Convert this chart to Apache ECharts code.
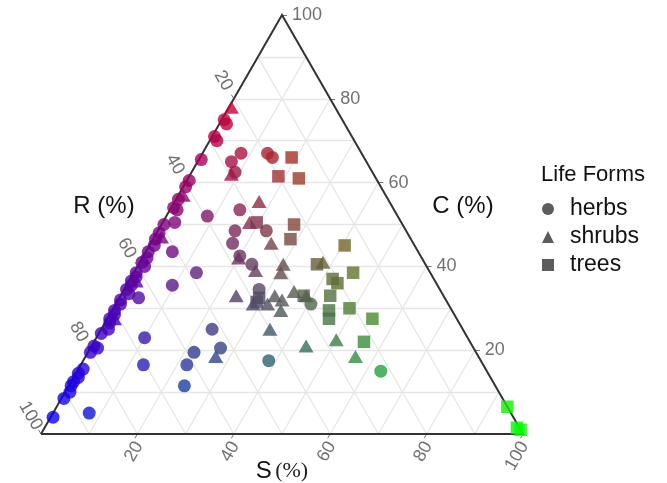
<!DOCTYPE html>
<html>
<head>
<meta charset="utf-8">
<script src="https://cdn.jsdelivr.net/npm/echarts@6/dist/echarts.min.js"></script>
<style>
  html, body { margin: 0; padding: 0; background: #fff; }
  #main { width: 667px; height: 483px; }
</style>
</head>
<body>
<div id="main"></div>
<script>
// each row: [C, S, R] in %
var herbs = [
  [75, 0.5, 24.5], [74, 1.5, 24.5], [71, 0.5, 28.5], [70, 1.5, 28.5], [65.5, 0.5, 34],
  [60.5, 0.5, 39], [59, 0.5, 40.5], [56, 0.5, 43.5], [54, 0.5, 45.5], [53.5, 1.5, 45],
  [50.5, 2.5, 47], [50, 0.5, 49.5], [48, 0.5, 51.5], [46.5, 0.5, 53], [45, 1, 54],
  [43.5, 0.5, 56], [42, 1, 57], [41, 0.5, 58.5], [40, 1.5, 58.5], [38.5, 0.5, 61],
  [37.5, 1, 61.5], [36.5, 0.5, 63], [35.5, 1, 63.5], [34.5, 0.5, 65], [33.5, 1.5, 65],
  [32, 0.5, 67.5], [31, 1, 68], [29.5, 0.5, 70], [28.5, 1, 70.5], [27.5, 0.5, 72],
  [26.5, 1, 72.5], [25, 1.5, 73.5], [24, 0.5, 75.5], [21, 0.5, 78.5], [20.5, 1.5, 78],
  [19.5, 0.5, 80], [15.5, 1, 83.5], [14.5, 0.5, 85], [13.5, 1, 85.5], [12.5, 0.5, 87],
  [11.5, 0.5, 88], [10, 1, 89], [8.5, 0.5, 91], [4, 0.5, 95.5],
  [67, 8, 25], [67, 13.5, 19.5], [66, 15, 19], [65, 7, 28], [62.5, 9, 28.5],
  [52, 8.5, 39.5], [53.5, 14.5, 32], [48.5, 16, 35.5], [48.5, 22.5, 29], [45.5, 17, 37.5],
  [42.5, 20, 37.5], [40.5, 23.5, 36], [34.5, 28, 37.5], [31, 40.5, 28.5], [43.5, 5.5, 51],
  [38.5, 13, 48.5], [35.5, 9.5, 55], [32.5, 4, 63.5], [25, 23, 52], [23, 10, 67],
  [20.5, 27, 52.5], [19.5, 22, 58.5], [16.5, 22, 61.5], [16.5, 13, 70.5], [11.5, 24, 64.5],
  [5, 7.5, 87.5], [17.5, 38.5, 44], [15, 63, 22]
];
var shrubs = [
  [78, 0.5, 21.5], [57, 1, 42], [47, 1.5, 51.5], [36.5, 1.5, 62], [27.5, 1.5, 71],
  [62, 8.5, 29.5], [55.5, 17.5, 27], [50.5, 18, 31.5], [45.5, 25, 29.5], [42, 20, 38],
  [39, 25, 36], [40.5, 30, 29.5], [38.5, 30.5, 31], [41, 38, 21], [33, 24, 43],
  [31, 31.5, 37.5], [33, 32, 35], [32, 34, 34], [34, 35.5, 30.5], [33, 38.5, 28.5],
  [29.5, 35, 35.5], [25, 35, 40], [21, 44.5, 34.5], [22.5, 50, 27.5], [18.5, 56, 25.5],
  [18.5, 27, 54.5], [31, 28.5, 40.5]
];
var trees = [
  [66, 19, 15], [61.5, 18.5, 20], [61, 23, 16], [50.5, 19.5, 30], [50, 27.5, 22.5],
  [46.5, 28.5, 25], [45, 40.5, 14.5], [40.5, 37, 22.5], [38.5, 45.5, 16], [37, 42, 21],
  [36, 43.5, 20.5], [33, 43.5, 23.5], [30, 49, 21], [27.5, 55, 17.5], [29.5, 45, 25.5],
  [27.5, 46, 26.5], [22, 56, 22], [32.5, 29, 38.5], [31.5, 29, 39.5], [33, 38, 29],
  [6.5, 93.5, 0], [1.5, 98, 0.5], [1, 99, 0]
];
var ticks = [20, 40, 60, 80, 100];
var gridSteps = [10, 20, 30, 40, 50, 60, 70, 80, 90];

var H = Math.sqrt(3) / 2;
var PX = 482 / 100, PY = 419 / (100 * H);

// ternary (C, S) -> plane
function toXY(c, s) {
  return [s + c / 2, c * H];
}
// move a plane point by some pixels
function shift(p, dx, dy) {
  return [p[0] + dx / PX, p[1] - dy / PY];
}
function pointColor(d) {
  return 'rgb(' + Math.round(d[0] * 2.55) + ',' + Math.round(d[1] * 2.55) + ',' + Math.round(d[2] * 2.55) + ')';
}
function toItems(list) {
  return list.map(function (d) {
    return { value: toXY(d[0], d[1]), itemStyle: { color: pointColor(d), opacity: 0.8 } };
  });
}

var gridLines = [];
gridSteps.forEach(function (k) {
  gridLines.push({ coords: [toXY(k, 0), toXY(k, 100 - k)] });
  gridLines.push({ coords: [toXY(0, k), toXY(100 - k, k)] });
  gridLines.push({ coords: [toXY(0, 100 - k), toXY(100 - k, 0)] });
});

var tickLines = [];
var cLabels = [], rLabels = [], sLabels = [];
ticks.forEach(function (t) {
  var pc = toXY(t, 100 - t);
  var pr = toXY(100 - t, 0);
  var ps = toXY(0, t);
  tickLines.push({ coords: [pc, shift(pc, 5, 0)] });
  tickLines.push({ coords: [pr, shift(pr, -2.5, -4.3)] });
  tickLines.push({ coords: [ps, shift(ps, -2.5, 4.3)] });
  cLabels.push({ name: String(t), value: shift(pc, 10, 0) });
  rLabels.push({ name: String(t), value: shift(pr, -10.5, -18.2) });
  sLabels.push({ name: String(t), value: shift(ps, 1.5, 9) });
});

function labelSeries(data, align, rotate) {
  return {
    type: 'scatter', data: data, symbolSize: 0, silent: true, clip: false, z: 5,
    label: {
      show: true, position: 'inside', formatter: '{b}', align: align, verticalAlign: 'middle',
      rotate: rotate, color: '#4d4d4d', fontSize: 18, fontFamily: 'Liberation Sans'
    }
  };
}

var chart = echarts.init(document.getElementById('main'));
chart.setOption({
  animation: false,
  grid: { left: 41, top: 15, width: 482, height: 419 },
  xAxis: { type: 'value', min: 0, max: 100, show: false },
  yAxis: { type: 'value', min: 0, max: 100 * H, show: false },
  legend: {
    orient: 'vertical', left: 542, top: 195, padding: 0, itemGap: 0,
    itemWidth: 12, itemHeight: 12,
    itemStyle: { color: '#333' },
    textStyle: { fontSize: 23, fontFamily: 'Liberation Sans', color: '#111', lineHeight: 28, padding: [0, 0, 0, 11] },
    data: [
      { name: 'herbs', icon: 'circle' },
      { name: 'shrubs', icon: 'triangle' },
      { name: 'trees', icon: 'rect' }
    ]
  },
  graphic: [
    { type: 'text', x: 593, y: 175, style: { text: 'Life Forms', fontSize: 22, fontFamily: 'Liberation Sans', fill: '#111', align: 'center', verticalAlign: 'middle' } },
    { type: 'text', x: 104, y: 206, style: { text: 'R (%)', fontSize: 24, fontFamily: 'Liberation Sans', fill: '#111', align: 'center', verticalAlign: 'middle' } },
    { type: 'text', x: 463, y: 206, style: { text: 'C (%)', fontSize: 24, fontFamily: 'Liberation Sans', fill: '#111', align: 'center', verticalAlign: 'middle' } },
    { type: 'text', x: 282, y: 471, style: {
      text: '{a|S} {b|(%)}', align: 'center', verticalAlign: 'middle',
      rich: {
        a: { fontSize: 24, fontFamily: 'Liberation Sans', fill: '#111' },
        b: { fontSize: 22, fontFamily: 'Liberation Serif', fill: '#222' }
      }
    } }
  ],
  series: [
    {
      type: 'lines', coordinateSystem: 'cartesian2d', silent: true, z: 1, clip: false,
      lineStyle: { color: '#e6e6e6', width: 1.3, opacity: 1 },
      data: gridLines
    },
    {
      type: 'lines', coordinateSystem: 'cartesian2d', silent: true, z: 2, clip: false,
      lineStyle: { color: '#777', width: 1, opacity: 1 },
      data: tickLines
    },
    {
      type: 'lines', coordinateSystem: 'cartesian2d', polyline: true, silent: true, z: 2, clip: false,
      lineStyle: { color: '#333', width: 2, opacity: 1 },
      data: [{ coords: [toXY(0, 0), toXY(100, 0), toXY(0, 100), toXY(0, 0)] }]
    },
    labelSeries(cLabels, 'left', 0),
    labelSeries(rLabels, 'center', -60),
    labelSeries(sLabels, 'right', 60),
    {
      name: 'herbs', type: 'scatter', symbol: 'circle', symbolSize: 13, z: 3, clip: false,
      itemStyle: { color: '#333' }, data: toItems(herbs)
    },
    {
      name: 'shrubs', type: 'scatter', symbol: 'triangle', symbolSize: [15, 13], z: 3, clip: false,
      itemStyle: { color: '#333' }, data: toItems(shrubs)
    },
    {
      name: 'trees', type: 'scatter', symbol: 'rect', symbolSize: 12.5, z: 3, clip: false,
      itemStyle: { color: '#333' }, data: toItems(trees)
    }
  ]
});
</script>
</body>
</html>
